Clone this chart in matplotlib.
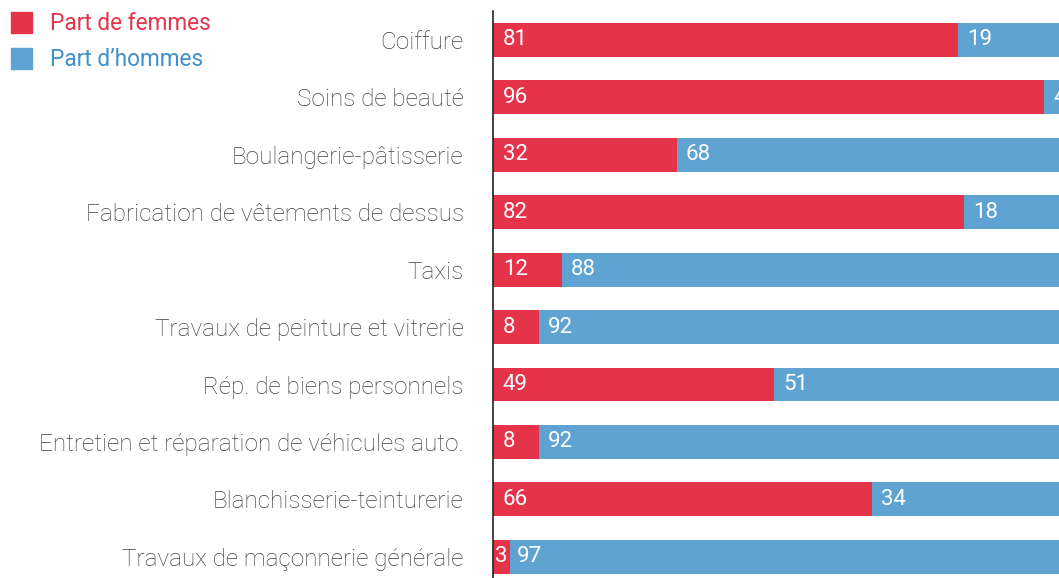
import matplotlib
matplotlib.use("Agg")
import matplotlib.pyplot as plt

# données (en %)
metiers = ["Coiffure", "Soins de beauté", "Boulangerie-pâtisserie",
           "Fabrication de vêtements de dessus", "Taxis",
           "Travaux de peinture et vitrerie", "Rép. de biens personnels",
           "Entretien et réparation de véhicules auto.",
           "Blanchisserie-teinturerie", "Travaux de maçonnerie générale"]
femmes = [81, 96, 32, 82, 12, 8, 49, 8, 66, 3]
hommes = [19, 4, 68, 18, 88, 92, 51, 92, 34, 97]

rouge = "#E5344A"
bleu = "#5FA3D2"
plt.rcParams["font.family"] = ["Roboto", "DejaVu Sans"]

fig = plt.figure(figsize=(10.59, 5.78), dpi=100)
ax = fig.add_axes([493 / 1059, 0, 1 - 493 / 1059, 1 - 11 / 578])

y = range(len(metiers))
ax.barh(y, femmes, height=0.59, color=rouge)
ax.barh(y, hommes, left=femmes, height=0.59, color=bleu)

ax.set_xlim(0, 98.6)
ax.set_ylim(9.37, -0.505)

# étiquettes dans les barres
for i in y:
    f, h = femmes[i], hommes[i]
    if f < 5:
        ax.text(f / 2, i, str(f), color="white", fontsize=16, ha="center", va="center")
    else:
        ax.text(1.7, i, str(f), color="white", fontsize=16, va="center")
    ax.text(f + (1.2 if f < 5 else 1.6), i, str(h), color="white", fontsize=16,
            va="center", clip_on=True)

ax.set_yticks(list(y))
ax.set_yticklabels(metiers, fontsize=17.5, color="#404040", fontweight="light")
ax.tick_params(axis="y", length=0, pad=21)
ax.set_xticks([])
for s in ["top", "right", "bottom"]:
    ax.spines[s].set_visible(False)
ax.spines["left"].set_color("#222222")
ax.spines["left"].set_linewidth(1.2)

# légende
fig.patches.append(plt.Rectangle((11 / 1059, 1 - 33 / 578), 21 / 1059, 21 / 578,
                                 transform=fig.transFigure, color=rouge))
fig.patches.append(plt.Rectangle((11 / 1059, 1 - 69 / 578), 21 / 1059, 21 / 578,
                                 transform=fig.transFigure, color=bleu))
fig.text(50 / 1059, 1 - 23 / 578, "Part de femmes", color=rouge, fontsize=16.3, va="center")
fig.text(50 / 1059, 1 - 59 / 578, "Part d’hommes", color="#3F91CB", fontsize=16.3, va="center")

fig.savefig("out.png", dpi=100)
